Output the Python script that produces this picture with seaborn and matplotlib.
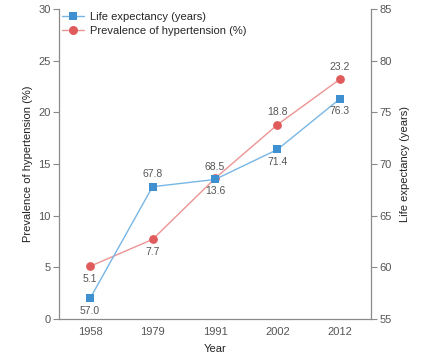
import matplotlib
matplotlib.use("Agg")
import matplotlib.pyplot as plt
import seaborn as sns
import pandas as pd
from matplotlib.lines import Line2D

years = ["1958", "1979", "1991", "2002", "2012"]
hypertension = [5.1, 7.7, 13.6, 18.8, 23.2]
life_exp = [57.0, 67.8, 68.5, 71.4, 76.3]
hyp_pos = ["below", "below", "below", "above", "above"]
life_pos = ["below", "above", "above", "below", "below"]

sns.set_style("white")
plt.rcParams['font.family'] = ['Liberation Sans', 'DejaVu Sans']

BLUE = "#3f90d0"
BLUE_L = "#78b6e4"
RED = "#e05c5c"
RED_L = "#ec9494"
GRAY = "#8a8a8a"
TXT = "#555555"

df = pd.DataFrame({"x": range(len(years)), "hyp": hypertension, "life": life_exp})

fig = plt.figure(figsize=(4.3, 3.58), dpi=100)
ax = fig.add_axes([0.137, 0.109, 0.726, 0.866])
ax2 = ax.twinx()

sns.lineplot(data=df, x="x", y="hyp", ax=ax, color=RED_L, linewidth=1.0, legend=False)
sns.scatterplot(data=df, x="x", y="hyp", ax=ax, color=RED, marker="o", s=40,
                linewidth=0, legend=False, zorder=3)
sns.lineplot(data=df, x="x", y="life", ax=ax2, color=BLUE_L, linewidth=1.0, legend=False)
sns.scatterplot(data=df, x="x", y="life", ax=ax2, color=BLUE, marker="s", s=36,
                linewidth=0, legend=False, zorder=3)

ax.set_xlim(-0.5, 4.5)
ax.set_ylim(0, 30)
ax2.set_ylim(55, 85)
ax.set_xticks(range(len(years)))
ax.set_xticklabels(years)
ax.set_yticks(range(0, 31, 5))
ax2.set_yticks(range(55, 86, 5))

for a in (ax, ax2):
    for s in a.spines.values():
        s.set_visible(False)
    a.tick_params(colors=GRAY, labelcolor=TXT, labelsize=8, length=4, width=0.8, pad=2)
ax.spines["left"].set_visible(True)
ax.spines["bottom"].set_visible(True)
ax2.spines["right"].set_visible(True)
for s in (ax.spines["left"], ax.spines["bottom"], ax2.spines["right"]):
    s.set_color(GRAY)
    s.set_linewidth(0.9)

ax.set_xlabel("Year", fontsize=8, color="#222222", labelpad=5)
ax.set_ylabel("Prevalence of hypertension (%)", fontsize=8, color="#222222", labelpad=4)
ax2.set_ylabel("Life expectancy (years)", fontsize=8, color="#222222", labelpad=6)

for i, (v, p) in enumerate(zip(hypertension, hyp_pos)):
    off = 9 if p == "above" else -9
    ax.annotate(f"{v:.1f}", (i, v), xytext=(0, off), textcoords="offset points",
                ha="center", va="center", fontsize=7.5, color=TXT)
for i, (v, p) in enumerate(zip(life_exp, life_pos)):
    off = 9 if p == "above" else -9
    ax2.annotate(f"{v:.1f}", (i, v), xytext=(0, off), textcoords="offset points",
                 ha="center", va="center", fontsize=7.5, color=TXT)

handles = [
    Line2D([], [], color=BLUE_L, lw=1.0, marker="s", markersize=6,
           markerfacecolor=BLUE, markeredgewidth=0),
    Line2D([], [], color=RED_L, lw=1.0, marker="o", markersize=6.5,
           markerfacecolor=RED, markeredgewidth=0),
]
ax2.legend(handles, ["Life expectancy (years)", "Prevalence of hypertension (%)"],
           loc="upper left", frameon=False, fontsize=8, handlelength=2.0,
           borderaxespad=0.1, borderpad=0.2, labelspacing=0.35, handletextpad=0.5)

fig.savefig("out.png", dpi=100)
